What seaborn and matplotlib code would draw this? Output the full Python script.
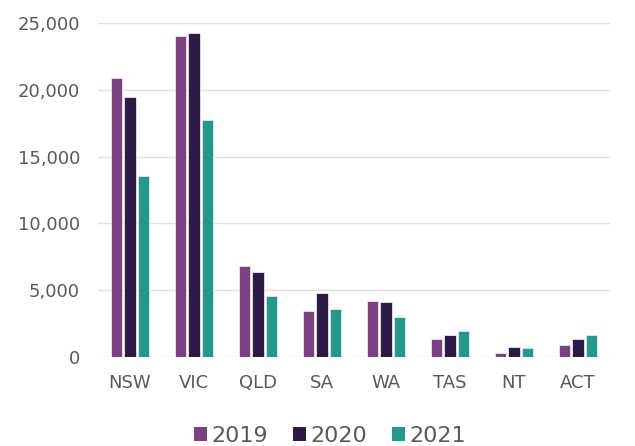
import matplotlib
matplotlib.use('Agg')
import matplotlib.pyplot as plt
import matplotlib.ticker as mticker
from matplotlib.patches import Patch
import pandas as pd
import seaborn as sns

STATES = ['NSW', 'VIC', 'QLD', 'SA', 'WA', 'TAS', 'NT', 'ACT']
YEARS = ['2019', '2020', '2021']
VALUES_2019 = [20850, 24030, 6840, 3450, 4200, 1370, 320, 920]
VALUES_2020 = [19460, 24230, 6390, 4770, 4090, 1670, 770, 1370]
VALUES_2021 = [13570, 17710, 4570, 3620, 3000, 1970, 650, 1650]
COLORS = ['#7B4180', '#2D1A47', '#1F9A8B']

rows = []
for year, vals in zip(YEARS, [VALUES_2019, VALUES_2020, VALUES_2021]):
    for state, v in zip(STATES, vals):
        rows.append({'state': state, 'year': year, 'value': v})
df = pd.DataFrame(rows)

sns.set_style('white')
plt.rcParams['font.family'] = ['DejaVu Sans']

fig, ax = plt.subplots(figsize=(6.35, 4.46), dpi=100)
fig.subplots_adjust(left=98 / 635, right=610 / 635, top=1 - 23 / 446, bottom=1 - 357 / 446)

sns.barplot(data=df, x='state', y='value', hue='year', order=STATES,
            hue_order=YEARS, palette=COLORS, saturation=1, width=0.64, gap=0.15,
            edgecolor='#EDE6EE', linewidth=0.6, legend=False, ax=ax, zorder=3)

ax.set_ylim(0, 25000)
ax.set_xlim(-0.5, len(STATES) - 0.5)
ax.yaxis.set_major_locator(mticker.MultipleLocator(5000))
ax.yaxis.set_major_formatter(mticker.FuncFormatter(lambda v, p: f'{int(v):,}'))
ax.grid(axis='y', color='#E0E0E0', linewidth=1.0, zorder=0)
ax.set_axisbelow(True)
for s in ax.spines.values():
    s.set_visible(False)
ax.set_xlabel('')
ax.set_ylabel('')
ax.tick_params(axis='y', length=0, pad=13, labelsize=13, labelcolor='#595959')
ax.tick_params(axis='x', length=0, pad=12, labelsize=13, labelcolor='#595959')

handles = [Patch(facecolor=c, edgecolor='none') for c in COLORS]
fig.legend(handles, YEARS, loc='center', bbox_to_anchor=(330 / 635, 1 - 436 / 446),
           ncol=3, frameon=False, fontsize=16, labelcolor='#595959',
           handlelength=0.6, handleheight=0.6, handletextpad=0.2,
           columnspacing=1.1, borderpad=0)

fig.savefig('out.png', dpi=100)
